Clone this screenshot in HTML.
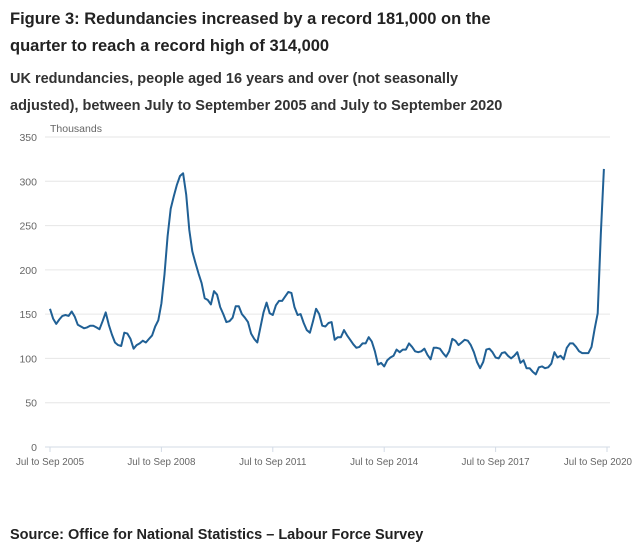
<!DOCTYPE html>
<html><head><meta charset="utf-8"><style>
body{margin:0;background:#fff;font-family:"Liberation Sans",sans-serif;color:#222;}
#wrap{position:relative;width:633px;height:548px;overflow:hidden}
.t{position:absolute;left:10px;font-weight:bold;white-space:nowrap}
</style></head><body><div id="wrap">
<div class="t" style="top:6px;font-size:16.5px;line-height:27px;color:#222">Figure 3: Redundancies increased by a record 181,000 on the<br>quarter to reach a record high of 314,000</div>
<div class="t" style="top:66px;font-size:14.5px;line-height:27px;color:#333">UK redundancies, people aged 16 years and over (not seasonally<br>adjusted), between July to September 2005 and July to September 2020</div>
<div class="t" style="top:527px;font-size:14.5px;color:#222">Source: Office for National Statistics – Labour Force Survey</div>
<svg id="c" width="633" height="548" style="position:absolute;left:0;top:0"></svg>
</div>
<script>
const yTicks=[0,50,100,150,200,250,300,350];
const xTickLabels=["Jul to Sep 2005","Jul to Sep 2008","Jul to Sep 2011","Jul to Sep 2014","Jul to Sep 2017","Jul to Sep 2020"];
const xTickIdx=[0,36,72,108,144,180];
const redundancies=[156,145,139,144,148,149,148,153,147,138,136,134,135,137,137,135,133,142,152,138,
127,118,115,114,129,128,122,111,115,117,120,118,122,126,136,143,162,195,238,269,
283,296,306,309,285,245,221,208,196,185,168,166,161,176,172,158,150,141,142,146,
159,159,150,146,141,128,122,118,135,152,163,151,149,160,165,165,170,175,174,158,
149,150,140,132,129,142,156,150,137,136,140,141,121,124,124,132,126,121,116,112,
113,117,117,124,119,108,93,95,91,98,101,103,110,107,110,110,117,113,108,107,
108,111,104,99,112,112,111,106,102,108,122,120,115,118,121,120,115,107,96,89,
96,110,111,107,101,100,106,107,103,100,103,107,95,98,89,89,85,82,90,91,
89,90,94,107,101,103,99,112,117,117,113,108,106,106,106,113,133,151,240,314];
const svg=document.getElementById('c');const NS='http://www.w3.org/2000/svg';
const X0=50,X1=607,Y0=447,Y1=137;
const xs=i=>X0+(X1-X0)*i/180;
const ys=v=>Y0-(Y0-Y1)*v/350;
function mk(t,a){const e=document.createElementNS(NS,t);for(const k in a)e.setAttribute(k,a[k]);svg.appendChild(e);return e;}
yTicks.forEach(v=>{
 const g=mk('line',{x1:45,x2:610,y1:ys(v),y2:ys(v),stroke:v===0?'#d3dbe6':'#e6e6e6','stroke-width':1});
 
 
 const t=mk('text',{x:37,y:ys(v)+4,'text-anchor':'end','font-size':'10.5','fill':'#666','font-family':'Liberation Sans, sans-serif'});
 t.textContent=v;
 
 
});
const yt=mk('text',{x:50,y:132,'font-size':'10.5',fill:'#666','font-family':'Liberation Sans, sans-serif'});
yt.textContent='Thousands';


xTickIdx.forEach((ix,k)=>{
 const l=mk('line',{x1:xs(ix),x2:xs(ix),y1:447,y2:452,stroke:'#d3dbe6'});
 
 
 const last=k===xTickLabels.length-1;
 const t=mk('text',{x:last?632:xs(ix),y:465,'text-anchor':last?'end':'middle','font-size':'9.8',fill:'#666','font-family':'Liberation Sans, sans-serif'});
 t.textContent=xTickLabels[k];
 
 
});
const p=mk('path',{d:redundancies.map((v,i)=>(i?'L':'M')+xs(i).toFixed(1)+','+ys(v).toFixed(1)).join(''),fill:'none',stroke:'#206095','stroke-width':2,'stroke-linejoin':'round'});


</script></body></html>
